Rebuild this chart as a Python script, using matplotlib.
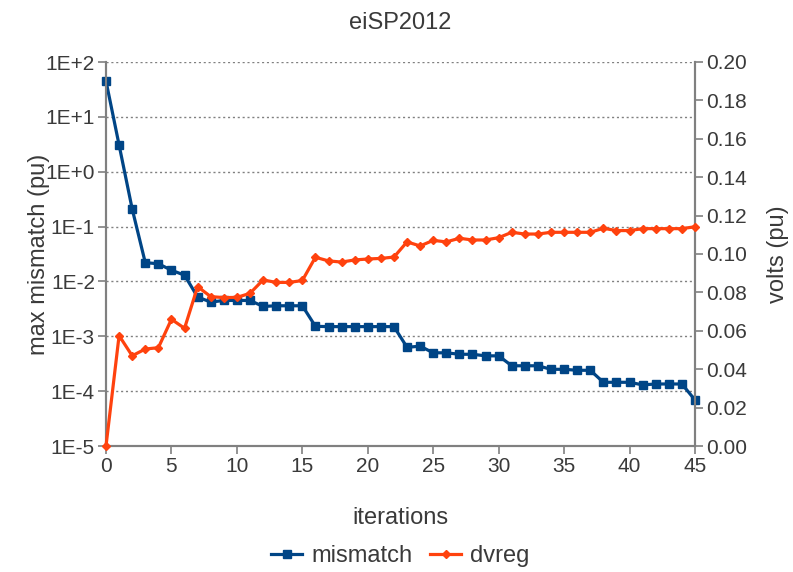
import numpy as np
import matplotlib.pyplot as plt
from matplotlib.ticker import FixedLocator, FuncFormatter

plt.rcParams['font.family'] = ['Liberation Sans', 'DejaVu Sans']

iterations = list(range(46))
mismatch = [45, 3.07, 0.21, 0.022, 0.021, 0.016, 0.013, 0.0052, 0.0042, 0.0045,
            0.0045, 0.0045, 0.0035, 0.0036, 0.0036, 0.0036, 0.00152, 0.0015, 0.0015, 0.0015,
            0.0015, 0.0015, 0.0015, 0.00063, 0.00066, 0.0005, 0.0005, 0.00047, 0.00047, 0.00044,
            0.00044, 0.00029, 0.00029, 0.00029, 0.00025, 0.00025, 0.00024, 0.00024, 0.000145, 0.000145,
            0.000145, 0.00013, 0.000135, 0.000135, 0.000135, 0.000069]
dvreg = [0.0, 0.0575, 0.047, 0.0505, 0.0512, 0.066, 0.0613, 0.083, 0.0778, 0.0773,
         0.0774, 0.0795, 0.0865, 0.0852, 0.0852, 0.0862, 0.0983, 0.0964, 0.0958, 0.0969,
         0.0974, 0.0977, 0.0984, 0.1063, 0.1042, 0.1071, 0.1063, 0.1082, 0.1073, 0.1073,
         0.1085, 0.1113, 0.1104, 0.1104, 0.1113, 0.1113, 0.1113, 0.1113, 0.1134, 0.1122,
         0.1122, 0.1132, 0.1132, 0.1132, 0.1132, 0.1142]

BLUE = '#004586'
ORANGE = '#ff420e'
TXT = '#3a3a3a'
AXC = '#808080'

fig = plt.figure(figsize=(7.93, 5.72), dpi=100)
ax = fig.add_axes([106 / 793, 1 - 446 / 572, 589 / 793, 384 / 572])
ax2 = ax.twinx()

ax.set_yscale('log')
ax.set_ylim(1e-5, 1e2)
ax.set_xlim(0, 45)
ax2.set_ylim(0, 0.2)

# gridlines at each decade
ax.yaxis.set_major_locator(FixedLocator([10.0 ** k for k in range(-5, 3)]))
ax.yaxis.set_minor_locator(FixedLocator([]))
ax.yaxis.set_major_formatter(FuncFormatter(lambda v, p: '1E%+d' % int(round(np.log10(v)))))
ax.grid(axis='y', which='major', color='#808080', ls=(0, (1.5, 2)), lw=1.0)
ax.set_axisbelow(True)

ax.set_xticks(range(0, 46, 5))
ax2.set_yticks(np.arange(0, 0.201, 0.02))
ax2.yaxis.set_major_formatter(FuncFormatter(lambda v, p: '%.2f' % v))

for a in (ax, ax2):
    a.spines['top'].set_visible(False)
    for s in ('left', 'right', 'bottom'):
        a.spines[s].set_color(AXC)
        a.spines[s].set_linewidth(1.5)
    a.tick_params(colors=AXC, labelcolor=TXT, labelsize=15, length=6, width=1.2,
                  direction='out', pad=2)

l1, = ax.plot(iterations, mismatch, color=BLUE, lw=2.3, marker='s', ms=5.5,
              label='mismatch', zorder=3, clip_on=False)
l2, = ax2.plot(iterations, dvreg, color=ORANGE, lw=2.3, marker='D', ms=4.2,
               label='dvreg', zorder=3, clip_on=False)

ax.set_title('eiSP2012', color=TXT, fontsize=17, pad=24)
ax.set_xlabel('iterations', color=TXT, fontsize=17, labelpad=22)
ax.set_ylabel('max mismatch (pu)', color=TXT, fontsize=17)
ax.yaxis.set_label_coords(-0.095, 0.5)
ax2.set_ylabel('volts (pu)', color=TXT, fontsize=17)
ax2.yaxis.set_label_coords(1.123, 0.5)

fig.legend(handles=[l1, l2], loc='center', bbox_to_anchor=(0.505, 1 - 556 / 572), ncol=2,
           frameon=False, fontsize=17, labelcolor=TXT, handlelength=1.3, columnspacing=0.75,
           handletextpad=0.4)

fig.savefig('out.png', dpi=100)
